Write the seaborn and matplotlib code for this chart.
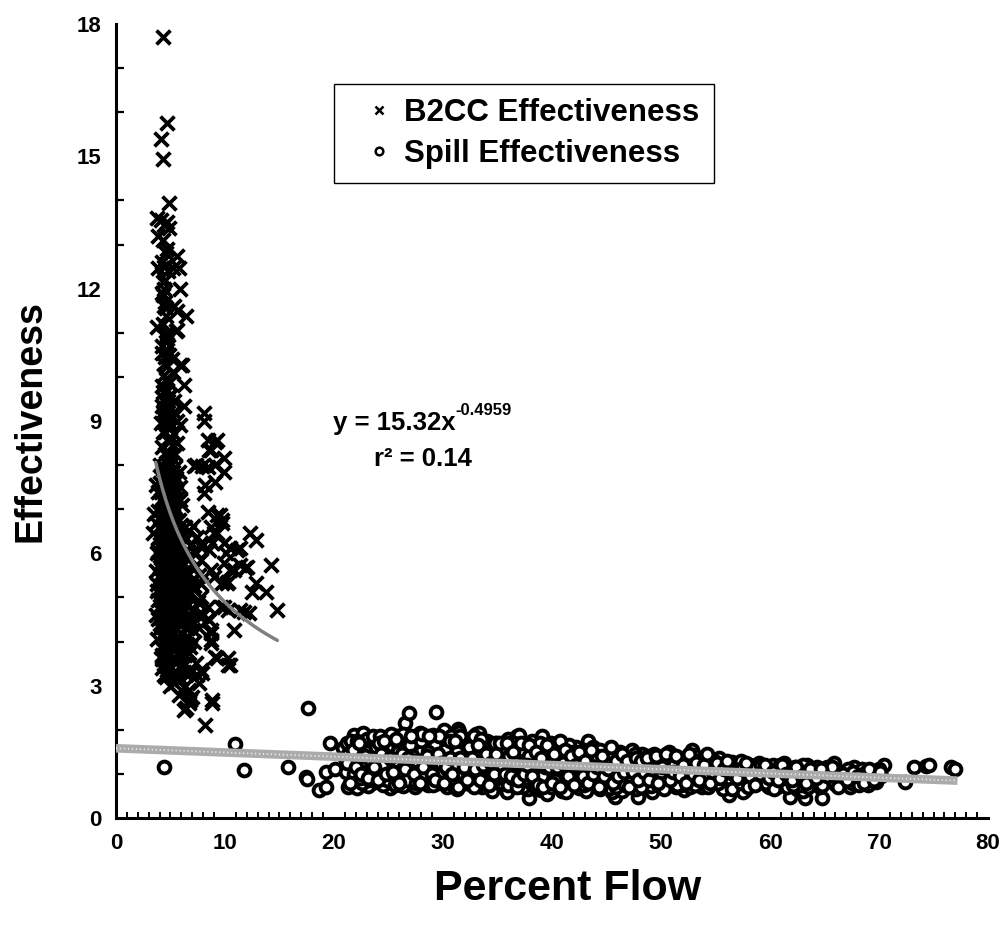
import numpy as np
import pandas as pd
import matplotlib
matplotlib.use("Agg")
import matplotlib.pyplot as plt
from matplotlib.lines import Line2D
from matplotlib.ticker import MultipleLocator
import seaborn as sns

# ---------------- data ----------------
b2cc_x = [
    4.3, 4.7, 4.1, 4.3, 4.9, 3.8, 4.1, 4.4, 4.9, 3.9, 4.7, 5.6, 3.9, 4.4, 4.8, 5.2, 5.8,
    4.3, 4.4, 4.3, 4.5, 5.9, 5.6, 6.4, 4.6, 5.3, 3.8, 5.6, 4.7, 5.5, 4.6, 4.2, 4.5, 4.9,
    5.1, 4.4, 6.1, 5.9, 4.7, 6.2, 4.7, 4.9, 4.6, 6.2, 4.4, 4.8, 5.2, 4.7, 5.6,
    4.2, 4.6, 5.0, 4.4, 4.9, 4.3, 5.3, 4.6, 4.1, 5.0, 5.9, 4.5, 5.3, 4.9, 5.6, 4.7, 4.2, 5.0,
    4.6, 5.0, 5.4, 4.3, 5.8, 4.8, 4.2, 4.7, 5.1, 5.5, 3.65, 4.4, 5.9, 4.9,
    4.5, 5.2, 4.1, 5.6, 4.8, 5.0, 4.3, 6.1, 3.9,
    3.5, 4.0, 4.6, 5.3, 5.8, 4.4, 3.65, 4.9, 5.5, 6.3, 4.2, 3.4, 6.7,
    4.7, 5.1, 3.9, 5.7, 4.4, 6.0, 4.9, 5.4, 3.8, 4.6, 6.5, 5.2, 7.0, 6.8,
    4.1, 4.8, 5.6, 6.2, 4.4, 5.0, 3.7, 5.9, 4.6, 5.3, 6.6, 7.3, 7.6,
    4.0, 4.9, 5.7, 4.3, 6.3, 5.1, 3.8, 4.7, 5.5, 6.0, 6.9, 4.2, 7.2,
    3.9, 4.5, 5.3, 6.5, 4.1, 4.8, 5.8, 4.4, 5.1, 6.2, 3.7, 7.0,
    4.0, 4.7, 5.5, 6.0, 4.3, 5.0, 6.6, 3.8, 5.7, 7.1,
    4.1, 4.6, 5.2, 5.9, 6.8, 4.4, 5.5, 6.3, 4.5, 7.3,
    4.7, 5.3, 5.9, 6.2, 7.8, 7.9, 6.8, 7.6, 7.4, 5.3, 6.2,
    5.8, 7.0, 6.7, 6.2, 6.7, 6.8, 8.8, 8.8, 8.2, 6.4,
    8.4, 8.5, 8.7, 8.7, 8.4, 8.7, 8.7, 9.1, 9.3, 10.3, 10.5, 10.3,
    9.9, 10.5, 11.4, 12.0, 9.7, 10.3, 9.6, 10.3, 11.4, 10.8, 11.7, 12.2, 14.8,
    12.8, 12.5, 13.8, 14.2, 9.9,
    10.8, 11.8, 8.7, 9.0, 10.2, 9.7, 9.3, 8.4, 8.7, 9.0, 12.3, 12.8, 9.9, 11.1,
    11.4, 7.8, 8.5, 7.8, 10.5, 10.1, 9.5, 9.7, 9.3, 8.8, 7.1, 7.4, 7.8,
    8.4, 9.3, 8.5, 9.9, 7.3, 8.4, 9.1, 9.9, 9.1, 8.2, 8.1, 7.2, 7.9, 8.1, 8.1,
    9.1, 8.7, 7.5, 7.8, 8.0, 7.6,
    4.0, 4.5, 5.0, 5.4, 4.2, 4.8, 5.2, 4.6, 5.1, 4.3, 4.9, 5.6, 4.1, 5.3, 4.7,
    4.5, 5.0, 4.2, 5.5, 4.8, 6.1, 5.7, 4.4, 5.2, 6.4,
    4.3, 4.9, 5.3, 4.5, 5.5, 4.1, 5.0, 5.9, 4.5, 5.4,
    4.2, 5.0, 5.8, 4.6, 5.3, 6.0, 4.4, 5.1, 4.7, 5.6,
    6.2, 4.5, 5.3, 4.0, 4.9, 5.6, 6.6, 4.5, 5.3, 6.1,
    4.8, 5.7, 4.2, 5.0, 6.0, 6.5, 5.2, 6.4, 7.0, 4.0,
    3.9, 4.3, 4.7, 5.1, 5.5, 4.0, 4.5, 5.0, 5.6, 6.0,
    3.8, 4.2, 4.6, 5.2, 5.8, 6.3, 3.9, 4.4, 4.9, 5.5,
    6.1, 6.8, 4.2, 4.8, 5.3, 5.8, 6.4, 5.0, 5.6, 6.0,
    4.2, 4.6, 4.3, 4.8, 4.2, 4.7, 5.2, 4.4, 4.9, 4.3,
    4.8, 5.3, 4.5, 4.3, 4.8, 5.2, 4.5, 4.9, 5.4, 4.0,
    3.9, 4.3, 4.7, 5.1, 5.5, 5.9, 6.3, 4.1, 4.5, 4.9,
    5.3, 5.7, 6.1, 6.6, 4.0, 4.4, 4.8, 5.2, 5.6, 6.0,
    6.4, 4.3, 4.7, 5.1, 5.5, 5.9, 4.0, 4.4, 4.8, 5.2,
    4.6, 5.1, 5.5, 5.9, 6.3, 6.7, 7.2, 7.5, 7.8, 7.3,
    4.5, 4.2, 4.6, 4.3, 4.7, 4.5, 4.7, 4.4, 4.6, 4.2,
]
b2cc_y = [
    17.7, 15.75, 15.4, 14.94, 13.95, 13.6, 13.55, 13.45, 13.37, 13.2, 12.9, 12.74, 12.47, 12.5, 12.4, 12.47, 12.47,
    12.15, 12.0, 11.85, 11.7, 12.0, 11.5, 11.37, 11.37, 11.6, 11.14, 11.07, 11.0, 11.03, 10.8, 10.55, 10.45, 10.5,
    10.4, 10.3, 10.27, 10.27, 9.93, 9.82, 9.7, 9.55, 9.4, 9.33, 9.15, 9.0, 9.1, 8.9, 9.0,
    9.8, 9.65, 9.6, 9.5, 9.3, 9.2, 9.2, 9.1, 8.95, 8.85, 8.9, 8.75, 8.7, 8.53, 8.5, 8.31, 8.4, 8.2,
    8.05, 8.0, 7.95, 7.9, 7.85, 7.8, 7.7, 7.65, 7.6, 7.7, 7.55, 7.5, 7.5, 7.45,
    7.35, 7.3, 7.2, 7.25, 7.1, 7.0, 7.0, 7.1, 6.95,
    6.9, 6.8, 6.85, 6.8, 6.75, 6.7, 6.68, 6.6, 6.55, 6.6, 6.5, 6.46, 6.5,
    6.45, 6.4, 6.35, 6.3, 6.25, 6.2, 6.15, 6.1, 6.0, 6.0, 6.05, 5.95, 6.2, 5.9,
    5.9, 5.85, 5.8, 5.75, 5.7, 5.65, 5.6, 5.6, 5.55, 5.5, 5.55, 5.7, 5.5,
    5.45, 5.4, 5.35, 5.3, 5.3, 5.2, 5.15, 5.1, 5.05, 5.0, 5.1, 5.0, 5.25,
    4.95, 4.9, 4.85, 4.8, 4.7, 4.7, 4.65, 4.55, 4.5, 4.5, 4.6, 4.7,
    4.4, 4.35, 4.3, 4.2, 4.15, 4.1, 4.1, 4.05, 4.0, 4.26,
    3.88, 3.9, 3.8, 3.75, 3.88, 3.65, 3.6, 3.7, 3.51, 3.51,
    3.36, 3.2, 3.45, 3.3, 3.36, 3.28, 3.28, 3.05, 3.24, 3.05, 2.98,
    2.79, 2.75, 2.6, 2.45, 2.9, 2.68, 2.68, 2.6, 2.11, 2.49,
    4.79, 4.49, 4.19, 3.96, 4.52, 4.26, 4.04, 3.66, 3.62, 3.62, 3.47, 3.47,
    5.77, 5.62, 5.74, 5.7, 5.32, 5.36, 4.79, 4.72, 4.72, 4.26, 4.67, 4.64, 4.72,
    5.33, 5.13, 5.13, 5.74, 4.79,
    5.62, 5.66, 5.62, 5.47, 5.32, 6.76, 6.87, 6.94, 6.6, 6.45, 6.45, 6.3, 6.23, 6.08,
    6.11, 6.23, 6.08, 5.85, 6.11, 6.0, 6.87, 6.68, 6.46, 6.23, 6.61, 6.38, 6.15,
    8.57, 8.57, 8.35, 8.16, 8.0, 7.96, 8.0, 7.85, 7.62, 7.55, 7.36, 7.97, 7.97, 9.18, 9.0,
    8.53, 8.34, 4.9, 5.3, 4.6, 4.3,
    5.75, 5.6, 5.5, 5.8, 6.1, 6.2, 5.3, 5.2, 6.3, 6.6, 6.9, 6.7, 7.4, 7.6, 7.8,
    4.6, 4.4, 3.6, 3.9, 3.35, 4.9, 4.45, 3.25, 3.95, 5.15,
    7.95, 7.75, 7.5, 7.15, 7.0, 6.6, 6.7, 6.4, 6.35, 6.3,
    6.1, 5.95, 6.0, 5.8, 5.75, 5.45, 5.35, 5.45, 5.25, 5.15,
    5.2, 5.05, 4.95, 4.8, 4.55, 4.45, 4.45, 4.2, 4.35, 3.95,
    3.7, 3.55, 3.4, 3.0, 3.15, 3.95, 6.85, 5.9, 5.4, 5.7,
    7.4, 7.25, 7.0, 7.15, 7.4, 6.2, 6.55, 6.25, 6.5, 6.65,
    5.3, 5.55, 5.2, 5.6, 5.3, 5.6, 4.5, 4.8, 4.25, 4.6,
    4.7, 4.6, 3.7, 4.0, 3.55, 4.1, 4.3, 3.45, 3.9, 3.4,
    11.9, 11.55, 11.2, 10.95, 10.7, 10.25, 10.1, 10.05, 9.85, 9.65,
    9.45, 9.45, 9.3, 8.75, 8.6, 8.45, 8.25, 8.1, 8.25, 8.0,
    6.05, 5.8, 6.1, 5.85, 6.05, 5.85, 6.3, 5.15, 5.45, 5.05,
    5.3, 5.55, 5.35, 5.05, 4.3, 4.05, 4.85, 4.2, 4.85, 4.4,
    4.9, 6.9, 6.55, 6.95, 6.7, 7.2, 7.6, 7.8, 7.3, 7.85,
    3.2, 3.6, 3.3, 3.65, 3.5, 3.75, 4.0, 4.6, 5.0, 6.0,
    12.2, 12.6, 12.8, 13.1, 13.5, 10.9, 10.6, 11.6, 9.95, 9.35,
]

spill_x = [
    4.4, 10.9, 11.7, 15.8, 17.4, 17.5, 17.65, 18.6, 19.3, 19.6, 19.3, 20.1,
    20.8, 21.2, 21.9, 21.8, 22.7, 21.3, 22.1, 21.0, 21.5, 22.3, 21.7, 22.5, 21.4, 22.0, 22.8, 21.6,
    23.0, 23.4, 23.7, 23.2, 23.9, 24.3, 23.5, 24.0, 24.6, 23.1, 24.4, 23.8, 24.8, 24.2,
    25.1, 25.1, 25.9, 25.4, 25.7, 26.2, 25.0, 26.5, 25.6, 26.0, 26.4, 25.3, 26.8, 25.8, 26.6,
    26.9, 27.2, 27.6, 27.9, 27.4, 28.3, 27.0, 28.0, 28.6, 27.8, 28.4, 27.3, 28.8, 28.2, 27.6,
    29.1, 29.4, 29.5, 29.0, 30.1, 30.3, 29.7, 30.6, 29.2, 30.0, 30.8, 29.8, 30.4, 29.3, 30.2,
    31.4, 31.5, 31.0, 31.8, 32.1, 32.7, 31.2, 32.4, 31.6, 32.0, 32.9, 31.3, 32.5, 31.9,
    33.0, 33.3, 33.5, 34.0, 33.2, 34.3, 33.8, 34.6, 33.6, 34.1, 34.8, 33.4, 34.5,
    35.0, 35.6, 35.3, 36.0, 35.8, 36.3, 35.2, 36.6, 35.5, 36.1, 36.8, 35.9, 36.4,
    37.0, 37.9, 37.4, 38.0, 37.2, 38.3, 37.6, 38.6, 37.8, 38.2, 38.8, 37.5,
    39.1, 39.0, 39.4, 40.0, 39.2, 40.3, 39.7, 40.5, 39.8, 40.2, 40.8, 39.5,
    41.0, 41.4, 42.0, 41.2, 42.5, 41.7, 42.2, 41.5, 42.8, 41.9,
    43.3, 43.4, 44.0, 43.0, 44.3, 43.6, 44.6, 43.8, 44.2, 43.2,
    45.1, 45.8, 45.4, 46.0, 45.2, 46.3, 45.7, 46.6, 46.2, 45.5,
    47.0, 47.9, 48.7, 47.4, 48.0, 47.2, 48.4, 47.7, 48.2, 47.5,
    49.6, 49.8, 49.2, 49.3, 50.7, 50.0, 49.5, 50.4, 50.2, 49.9,
    51.0, 51.5, 52.1, 52.8, 51.3, 52.4, 51.8, 52.0, 51.2, 52.6,
    53.0, 53.5, 54.0, 54.4, 53.2, 53.8, 54.2, 53.6,
    55.3, 56.2, 56.5, 55.0, 55.6, 56.0, 55.8, 56.8,
    57.7, 57.5, 57.0, 58.0, 58.4, 57.3, 58.7,
    59.0, 59.4, 60.0, 60.6, 59.7, 60.3,
    61.0, 61.8, 61.5, 62.0, 62.5, 61.3,
    63.2, 63.0, 63.6, 64.0, 64.4, 63.4,
    64.8, 65.2, 65.9, 65.5, 66.3, 66.0,
    67.3, 67.7, 67.0, 68.0, 68.4, 67.5,
    69.0, 70.5, 69.4, 70.0, 69.7,
    72.4, 73.2, 74.3, 74.6, 76.6, 77.0,
    21.1, 21.6, 22.2, 22.6, 23.3, 23.6, 24.1, 24.5, 24.9, 25.2,
    25.5, 26.1, 26.3, 26.7, 27.1, 27.5, 27.7, 28.1, 28.5, 28.9,
    29.6, 29.9, 30.5, 30.7, 31.1, 31.7, 32.2, 32.6, 33.1, 33.7,
    33.9, 34.2, 34.4, 34.7, 35.1, 35.4, 35.7, 36.2, 36.5, 36.9,
    37.1, 37.3, 37.7, 38.1, 38.4, 38.7, 39.3, 39.6, 39.9, 40.4,
    40.6, 40.9, 41.1, 41.6, 41.8, 42.3, 42.6, 42.9, 43.1, 43.5,
    43.9, 44.4, 44.7, 44.9, 45.3, 45.6, 45.9, 46.4, 46.7, 46.9,
    47.3, 47.6, 47.8, 48.3, 48.6, 48.9, 49.1, 49.4, 49.7, 50.3,
    50.6, 50.9, 51.4, 51.7, 51.9, 52.3, 52.7, 53.3, 53.7, 54.3,
    54.7, 55.2, 55.7, 56.4, 56.7, 57.2, 57.9, 58.2, 58.9, 59.2,
    59.9, 60.8, 61.6, 62.3, 62.8, 63.8, 64.6, 65.7, 66.6, 67.2,
    68.2, 68.8, 69.2, 70.2,
    22.4, 22.9, 23.5, 24.2, 24.7, 25.3, 25.8, 26.3, 26.9, 27.4,
    28.0, 28.4, 28.9, 29.3, 29.8, 30.3, 30.9, 31.4, 31.8, 32.3,
    32.8, 33.2, 33.6, 34.0, 34.5, 35.0, 35.5, 36.0, 36.5, 37.0,
    37.6, 38.3, 38.9, 39.4, 40.0, 40.7, 41.3, 42.1, 43.0, 44.0,
    21.3, 21.8, 22.1, 22.4, 22.6, 23.0, 23.2, 23.6, 23.9, 24.1,
    24.4, 24.6, 24.9, 25.2, 25.5, 25.6, 25.9, 26.2, 26.5, 26.7,
    27.0, 27.2, 27.5, 27.8, 28.1, 28.3, 28.6, 28.8, 29.1, 29.4,
    29.6, 29.9, 30.2, 30.4, 30.6, 30.9, 31.1, 31.3, 31.6, 31.9,
    32.1, 32.3, 32.6, 32.8, 33.0, 33.3, 33.5, 33.7, 34.0, 34.3,
    34.5, 34.8, 35.1, 35.3, 35.6, 35.8, 36.1, 36.3, 36.6, 36.8,
    37.1, 37.3, 37.6, 37.9, 38.1, 38.4, 38.6, 38.9, 39.1, 39.4,
    39.6, 39.9, 40.1, 40.3, 40.6, 40.9, 41.1, 41.3, 41.6, 41.9,
    42.1, 42.4, 42.7, 42.9, 43.2, 43.5, 43.8, 44.1, 44.4, 44.7,
    45.0, 45.3, 45.6, 45.9, 46.1, 46.4, 46.7, 47.0, 47.3, 47.6,
    47.9, 48.2, 48.5, 48.8, 49.1, 49.4, 49.7, 50.0, 50.3, 50.6,
    50.9, 51.2, 51.5, 51.8, 52.2, 52.5, 52.8, 53.1, 53.4, 53.7,
    54.0, 54.3, 54.6, 54.9, 55.2, 55.5, 55.9, 56.2, 56.5, 56.9,
    57.3, 57.6, 58.0, 58.4, 58.8, 59.2, 59.6, 60.0, 60.4, 60.9,
    61.3, 61.7, 62.1, 62.6, 63.0, 63.5, 63.9, 64.3, 64.8, 65.2,
    65.7, 66.2, 66.7, 67.1, 67.6, 68.1, 68.6, 69.1, 69.5, 70.1,
    21.2, 21.5, 21.7, 22.0, 22.3, 22.5, 22.8, 23.1, 23.4, 23.7,
    24.0, 24.3, 24.6, 24.8, 25.1, 25.4, 25.7, 26.0, 26.2, 26.5,
    26.8, 27.1, 27.3, 27.6, 27.9, 28.2, 28.5, 28.7, 29.0, 29.3,
    29.5, 29.8, 30.1, 30.3, 30.6, 30.8, 31.1, 31.4, 31.6, 31.9,
    32.2, 32.4, 32.7, 32.9, 33.2, 33.4, 33.7, 33.9, 34.2, 34.4,
    34.7, 34.9, 35.2, 35.4, 35.7, 35.9, 36.2, 36.4, 36.7, 36.9,
    37.2, 37.4, 37.7, 37.9, 38.2, 38.5, 38.7, 39.0, 39.2, 39.5,
    39.7, 40.0, 40.2, 40.5, 40.7, 41.0, 41.2, 41.5, 41.7, 42.0,
    42.2, 42.5, 42.8, 43.0, 43.3, 43.6, 43.8, 44.1, 44.3, 44.6,
    44.8, 45.1, 45.4, 45.6, 45.9, 46.1, 46.4, 46.6, 46.9, 47.1,
    47.4, 47.7, 47.9, 48.2, 48.4, 48.7, 48.9, 49.2, 49.5, 49.7,
    50.1, 50.5, 50.8, 51.1, 51.4, 51.7, 52.0, 52.3, 52.6, 52.9,
    53.2, 53.5, 53.9, 54.2, 54.5, 54.8, 55.1, 55.4, 55.8, 56.1,
    56.6, 57.0, 57.4, 57.8, 58.2, 58.6, 59.1, 59.5, 59.9, 60.3,
    60.7, 61.1, 61.5, 62.0, 62.4, 62.9, 63.3, 63.7, 64.2, 64.7,
]
spill_y = [
    1.15, 1.68, 1.09, 1.15, 0.94, 0.88, 2.49, 0.63, 0.71, 1.69, 1.05, 1.1,
    1.58, 1.69, 1.65, 1.88, 1.92, 0.71, 0.67, 1.35, 1.48, 1.02, 0.85, 1.18, 1.25, 0.92, 1.55, 1.12,
    1.78, 1.55, 1.73, 1.2, 0.95, 1.65, 0.8, 1.42, 1.1, 0.72, 0.88, 1.3, 1.5, 1.05,
    1.78, 0.67, 0.79, 1.5, 1.25, 1.7, 1.05, 2.15, 0.95, 1.4, 1.15, 1.62, 0.85, 1.85, 1.6,
    2.39, 1.75, 1.5, 1.92, 0.71, 1.8, 1.25, 1.05, 0.75, 0.9, 1.6, 1.4, 1.2, 1.35, 1.1,
    1.88, 2.41, 0.79, 1.55, 2.0, 1.7, 1.3, 1.5, 1.05, 0.9, 1.25, 1.75, 0.7, 1.4, 1.15,
    2.01, 1.95, 1.7, 1.55, 0.79, 0.75, 1.3, 1.8, 1.1, 0.95, 1.45, 0.65, 1.2, 1.6,
    1.9, 1.92, 1.6, 1.75, 1.25, 1.5, 1.0, 0.8, 0.7, 1.35, 1.15, 1.45, 0.62,
    1.7, 0.67, 1.5, 1.8, 1.2, 1.6, 0.95, 1.4, 0.82, 1.05, 1.86, 0.6, 1.3,
    1.88, 0.45, 1.65, 1.55, 1.3, 1.1, 0.85, 1.45, 0.65, 1.75, 0.95, 1.2,
    1.86, 0.63, 1.5, 1.6, 1.15, 1.35, 0.9, 0.72, 1.4, 1.05, 1.25, 0.55,
    1.55, 1.3, 1.45, 0.95, 0.67, 1.15, 1.6, 0.75, 1.2, 1.38,
    1.75, 1.45, 1.5, 1.1, 1.3, 0.85, 0.95, 1.6, 0.7, 1.25,
    1.47, 0.48, 1.3, 1.4, 1.05, 0.9, 0.72, 1.2, 1.5, 0.6,
    1.45, 0.48, 0.79, 1.3, 1.1, 0.9, 1.38, 0.65, 1.2, 1.0,
    1.39, 1.39, 0.6, 0.85, 1.5, 1.25, 1.1, 0.95, 0.7, 1.3,
    1.3, 1.15, 0.63, 1.54, 0.9, 1.35, 0.75, 1.1, 1.4, 1.0,
    1.42, 1.2, 1.3, 0.85, 1.0, 0.7, 1.15, 0.95,
    1.35, 0.52, 1.28, 1.1, 0.85, 1.0, 0.7, 1.2,
    0.63, 0.58, 1.2, 1.05, 0.9, 1.3, 0.8,
    1.25, 0.9, 1.1, 0.71, 0.75, 1.2,
    1.15, 0.48, 0.8, 1.05, 0.65, 1.25,
    0.45, 0.62, 0.95, 1.1, 0.8, 1.2,
    0.45, 1.15, 1.24, 0.9, 1.05, 0.78,
    0.71, 1.15, 1.0, 0.85, 1.1, 0.8,
    0.75, 1.2, 0.95, 1.1, 0.82,
    0.82, 1.15, 1.18, 1.2, 1.16, 1.1,
    1.05, 1.75, 1.4, 0.8, 1.0, 1.85, 1.25, 0.75, 1.6, 1.15,
    0.9, 1.3, 0.72, 1.55, 0.95, 1.7, 1.15, 1.55, 0.85, 1.7,
    1.2, 1.6, 0.95, 1.85, 1.4, 0.85, 1.7, 1.05, 0.9, 1.65,
    1.15, 0.95, 1.7, 1.3, 1.1, 0.8, 1.65, 1.25, 0.72, 1.5,
    1.05, 0.7, 1.45, 0.8, 1.6, 1.15, 1.3, 0.8, 1.7, 0.95,
    1.5, 0.62, 1.05, 1.65, 0.85, 1.3, 0.95, 1.55, 0.62, 1.35,
    1.05, 1.55, 0.8, 1.2, 0.68, 1.55, 1.1, 0.62, 1.4, 0.8,
    1.55, 1.2, 0.78, 1.45, 0.95, 1.25, 0.72, 1.45, 1.0, 1.4,
    0.8, 1.15, 0.7, 1.3, 0.9, 1.25, 0.7, 1.3, 0.8, 1.25,
    0.95, 1.2, 0.65, 1.15, 0.8, 1.0, 0.75, 1.2, 0.85, 1.05,
    0.7, 1.1, 0.7, 1.15, 0.75, 1.05, 0.7, 1.0, 0.85, 1.1,
    0.75, 1.05, 0.9, 0.95,
    1.6, 1.3, 1.15, 1.85, 0.95, 1.35, 1.1, 1.9, 1.3, 0.95,
    1.75, 1.0, 0.85, 1.65, 1.0, 1.35, 1.6, 1.25, 1.0, 1.4,
    1.85, 0.75, 1.3, 1.05, 1.55, 0.9, 1.35, 0.75, 1.7, 1.2,
    1.0, 1.35, 1.55, 1.0, 1.3, 1.75, 0.72, 1.15, 1.4, 0.85,
    1.45, 1.0, 1.75, 0.9, 1.3, 1.5, 0.85, 1.05, 1.6, 1.7,
    1.2, 1.45, 0.85, 1.9, 1.3, 0.75, 1.5, 1.0, 1.25, 0.85,
    1.65, 1.4, 0.8, 1.25, 1.9, 0.95, 1.5, 1.1, 0.75, 1.3,
    1.85, 0.8, 1.55, 1.1, 1.75, 0.75, 1.2, 1.5, 1.85, 0.8,
    1.3, 1.05, 1.55, 0.7, 1.4, 1.1, 1.8, 0.85, 1.5, 1.15,
    0.85, 1.7, 1.45, 0.95, 1.2, 1.55, 1.4, 0.9, 1.15, 0.7,
    1.55, 1.2, 0.9, 1.4, 1.1, 0.7, 1.25, 1.7, 0.95, 1.15,
    1.55, 0.7, 1.2, 0.85, 1.35, 1.1, 1.4, 0.6, 1.0, 1.5,
    0.85, 1.4, 1.1, 0.75, 1.5, 0.95, 1.2, 1.4, 0.65, 1.1,
    1.3, 0.85, 1.45, 0.7, 1.2, 1.0, 0.75, 1.2, 0.85, 1.45,
    1.05, 0.7, 1.15, 1.4, 0.9, 1.2, 0.75, 1.05, 0.65, 1.25,
    0.95, 1.2, 0.75, 1.05, 1.35, 0.9, 1.15, 0.75, 1.05, 1.3,
    0.95, 0.7, 1.1, 1.3, 0.8, 1.05, 1.25, 0.9, 0.65, 1.05,
    0.8, 1.15, 0.7, 1.1, 0.95, 1.2, 0.8, 0.95, 0.65, 1.2,
    0.9, 1.1, 0.75, 1.0, 1.2, 0.7, 0.9, 1.15, 0.75, 0.95,
    1.15, 0.7, 1.0, 0.85, 1.05, 0.95, 0.8, 1.1, 0.85, 1.05,
    1.25, 0.8, 1.55, 1.15, 1.7, 1.0, 1.4, 0.9, 1.3, 1.15,
    0.85, 1.45, 1.75, 1.0, 1.35, 1.05, 1.8, 0.8, 1.45, 1.1,
    1.35, 1.85, 1.0, 1.3, 0.8, 1.15, 1.4, 1.85, 1.0, 0.85,
    1.45, 1.25, 0.8, 1.15, 1.35, 1.0, 1.75, 0.7, 1.35, 1.15,
    0.85, 1.6, 1.35, 1.1, 1.65, 0.85, 1.2, 1.45, 0.75, 1.25,
    1.0, 1.45, 1.7, 1.2, 1.0, 1.7, 0.95, 1.5, 1.25, 0.85,
    1.7, 1.0, 1.2, 1.65, 0.95, 1.5, 0.75, 1.35, 0.7, 1.65,
    1.15, 0.8, 1.45, 1.15, 0.7, 1.25, 1.55, 0.95, 1.4, 0.75,
    1.2, 1.5, 0.95, 1.3, 0.8, 1.55, 1.0, 1.15, 0.7, 1.4,
    0.95, 1.1, 1.6, 0.8, 1.3, 0.95, 1.45, 1.05, 1.3, 0.7,
    1.05, 1.35, 0.85, 1.3, 1.05, 1.35, 0.85, 1.1, 1.4, 0.8,
    1.15, 1.45, 0.85, 1.05, 1.4, 0.95, 1.2, 0.8, 1.45, 1.0,
    1.25, 0.85, 1.2, 1.45, 0.8, 1.05, 1.25, 0.9, 1.1, 1.3,
    1.0, 0.9, 1.1, 1.25, 0.95, 0.75, 1.0, 1.2, 0.9, 1.05,
    0.85, 1.2, 1.0, 0.85, 1.15, 0.95, 0.8, 1.1, 0.9, 1.1,
]

# fit coefficients shown on the chart
power_a, power_b = 15.32, -0.4959
power_range = (3.65, 14.8)
spill_intercept, spill_slope = 1.58, -0.0095
spill_range = (0.0, 77.2)

legend_labels = ["B2CC Effectiveness", "Spill Effectiveness"]
x_ticks = [0, 10, 20, 30, 40, 50, 60, 70, 80]
y_ticks = [0, 3, 6, 9, 12, 15, 18]

# ---------------- figure ----------------
sns.set_theme(style="white")
plt.rcParams["font.family"] = ["Liberation Sans", "DejaVu Sans"]
plt.rcParams["font.weight"] = "bold"
for key in ["text.color", "axes.labelcolor", "xtick.color", "ytick.color"]:
    plt.rcParams[key] = "black"

fig = plt.figure(figsize=(10.05, 9.25), dpi=100)
ax = fig.add_axes([0.1154, 0.1157, 0.8677, 0.8584])

b2cc = pd.DataFrame({"x": b2cc_x, "y": b2cc_y})
spill = pd.DataFrame({"x": spill_x, "y": spill_y})

sns.scatterplot(data=spill, x="x", y="y", ax=ax, marker="o", s=72,
                facecolor="white", edgecolor="black", linewidth=2.8, zorder=2)
sns.scatterplot(data=b2cc, x="x", y="y", ax=ax, marker="x", s=100,
                color="black", linewidth=2.7, zorder=3)

# spill linear trend (patterned gray band)
lx = np.linspace(*spill_range, 50)
ly = spill_intercept + spill_slope * lx
ax.plot(lx, ly, color="#ababab", lw=6.2, solid_capstyle="butt", zorder=4)
ax.plot(lx, ly, color="#e8e8e8", lw=1.3, ls=(0, (0.7, 1.5)), zorder=5)

# power trend for B2CC
px = np.linspace(*power_range, 100)
py = power_a * px ** power_b
ax.plot(px, py, color="#808080", lw=2.5, zorder=6)

ax.set_xlim(0, 80)
ax.set_ylim(0, 18)
ax.set_xticks(x_ticks)
ax.set_yticks(y_ticks)
ax.xaxis.set_minor_locator(MultipleLocator(1))
ax.yaxis.set_minor_locator(MultipleLocator(1))
ax.tick_params(axis="both", which="major", direction="inout", length=13, width=2,
               color="black", labelsize=16, pad=4)
ax.tick_params(axis="y", which="minor", direction="in", length=6, width=1.6,
               color="black", left=True)
ax.tick_params(axis="x", which="minor", direction="in", length=4, width=1.4,
               color="black", bottom=True)
for lab in ax.get_xticklabels() + ax.get_yticklabels():
    lab.set_fontweight("bold")

for side in ["top", "right"]:
    ax.spines[side].set_visible(False)
for side in ["left", "bottom"]:
    ax.spines[side].set_color("black")
    ax.spines[side].set_linewidth(2.2)

ax.set_xlabel("Percent Flow", fontsize=31, fontweight="bold")
ax.set_ylabel("Effectiveness", fontsize=27, fontweight="bold", labelpad=20)
ax.xaxis.set_label_coords(0.518, -0.064)

# equation annotation
t1 = ax.text(19.9, 8.8, "y = 15.32x", fontsize=18.5, fontweight="bold", color="black")
ax.annotate("-0.4959", xy=(1.0, 0.72), xycoords=t1, fontsize=12,
            fontweight="bold", va="bottom", ha="left")
ax.text(23.7, 7.98, "r² = 0.14", fontsize=18.5, fontweight="bold", color="black")

handles = [
    Line2D([], [], marker="x", ls="none", color="black", markersize=6, markeredgewidth=1.8),
    Line2D([], [], marker="o", ls="none", markerfacecolor="white", markeredgecolor="black",
           markersize=5.5, markeredgewidth=1.8),
]
leg = ax.legend(handles, legend_labels, loc="upper left", bbox_to_anchor=(0.25, 0.925),
                prop={"weight": "bold", "size": 22.5}, frameon=True, fancybox=False,
                edgecolor="black", framealpha=1, handlelength=2.0, handletextpad=-0.2,
                borderpad=0.45, labelspacing=0.35, borderaxespad=0)
leg.get_frame().set_linewidth(1.0)

fig.savefig("out.png", dpi=100)
